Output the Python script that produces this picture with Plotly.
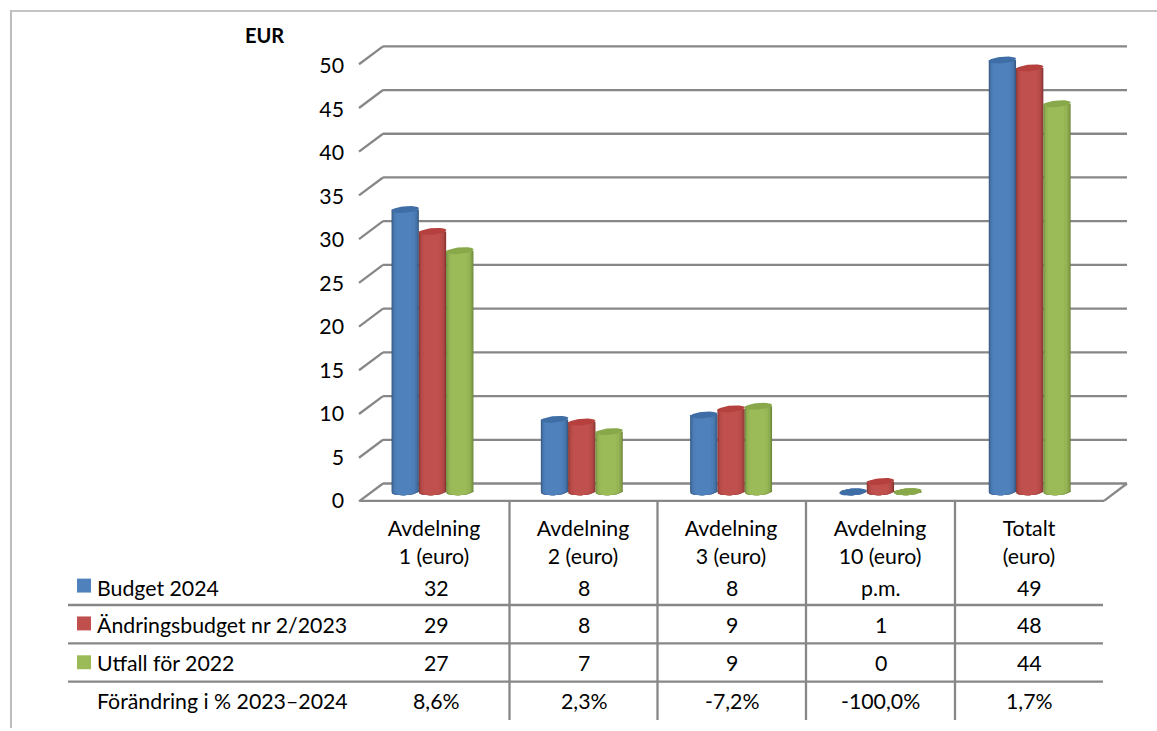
import math
import plotly.graph_objects as go

W, H = 1157, 731
FONT = "Lato"
FS = 21.3

categories = ["Avdelning<br>1 (euro)", "Avdelning<br>2 (euro)", "Avdelning<br>3 (euro)", "Avdelning<br>10 (euro)", "Totalt<br>(euro)"]
budget_2024 = [32.3, 8.3, 8.8, 0.0, 49.4]
andringsbudget = [29.8, 8.0, 9.5, 1.2, 48.5]
utfall_2022 = [27.6, 6.9, 9.8, 0.05, 44.4]
series_names = ["Budget 2024", "Ändringsbudget nr 2/2023", "Utfall för 2022"]
table_budget = ["32", "8", "8", "p.m.", "49"]
table_andring = ["29", "8", "9", "1", "48"]
table_utfall = ["27", "7", "9", "0", "44"]
table_change = ["8,6%", "2,3%", "-7,2%", "-100,0%", "1,7%"]
change_label = "Förändring i % 2023–2024"
y_ticks = [0, 5, 10, 15, 20, 25, 30, 35, 40, 45, 50]

base_cols = ["#4F81BD", "#C0504D", "#9BBB59"]
edge_cols = ["#34577F", "#843331", "#6C8539"]
cap_cols = ["#3F6DA5", "#B5403D", "#88A84A"]
LINE = "#878787"

# layout constants (pixels)
GROUP0, STEP = 432.5, 149.3
Y0, PXU = 494.0, 8.78
BAR_PX = 27.3
def xd(p): return (p - GROUP0) / STEP
def yd(p): return (Y0 - p) / PXU
def px(x): return x / W
def py(y): return 1 - y / H

def mix(a, b, t):
    a = [int(a[i:i+2], 16) for i in (1, 3, 5)]
    b = [int(b[i:i+2], 16) for i in (1, 3, 5)]
    return "rgb(%d,%d,%d)" % tuple(round(a[i] + (b[i] - a[i]) * t) for i in range(3))

def ellipse(cx, v, half_w, half_h=3.3, tilt=0.09, n=40):
    xs, ys = [], []
    for i in range(n + 1):
        t = 2 * math.pi * i / n
        dx = half_w * math.cos(t)
        dy = half_h * math.sin(t) + tilt * dx
        xs.append(cx + dx / STEP)
        ys.append(v + dy / PXU)
    return xs, ys

fig = go.Figure()
values = [budget_2024, andringsbudget, utfall_2022]
layers = [(1.0, 0.0), (0.95, 0.4), (0.87, 0.7), (0.76, 0.9), (0.58, 1.0)]
for s, vals in enumerate(values):
    for i, v in enumerate(vals):
        cx = i + (s - 1) * BAR_PX / STEP
        for frac, t in layers:
            col = mix(edge_cols[s], base_cols[s], t)
            w = BAR_PX * frac
            shift = -(1 - frac) * 2.0 / STEP
            ex, ey = ellipse(cx + shift, 0, w / 2, tilt=0.05)
            fig.add_trace(go.Scatter(x=ex, y=ey, mode="lines", fill="toself", fillcolor=col,
                                     line=dict(width=0), hoverinfo="skip", showlegend=False,
                                     zorder=10 * s))
            fig.add_trace(go.Bar(x=[cx], y=[v], width=w / STEP, offset=-w / STEP / 2 + shift,
                                 marker=dict(color=col, line=dict(width=0)),
                                 name=series_names[s], hoverinfo="skip", showlegend=False,
                                 zorder=10 * s + 1))
        ex, ey = ellipse(cx, v, BAR_PX / 2)
        fig.add_trace(go.Scatter(x=ex, y=ey, mode="lines", fill="toself", fillcolor=cap_cols[s],
                                 line=dict(width=0), hoverinfo="skip", showlegend=False,
                                 zorder=10 * s + 2))

# invisible trace that keeps the tick-label axis alive
fig.add_trace(go.Scatter(x=[0], y=[0], yaxis="y2", mode="lines", hoverinfo="skip", showlegend=False))

shapes = []
def seg(x0, y0, x1, y1, color=LINE, width=2.3):
    shapes.append(dict(type="line", xref="paper", yref="paper", x0=px(x0), y0=py(y0), x1=px(x1), y1=py(y1),
                       line=dict(color=color, width=width), layer="below"))

# chart frame
seg(11, 11, 1157, 11, "#C4C4C4", 2)
seg(11, 10, 11, 731, "#BDBDBD", 2)
# gridlines on the back wall with perspective stubs
for t in y_ticks:
    yb = 485.5 - t * 8.78
    seg(383, yb, 1127, yb)
    seg(383, yb, 359, yb + 18)
seg(360, 503, 1104, 503)
seg(1127, 485.5, 1104, 503)
# table rules
for x in [509.5, 657.5, 806, 955]:
    seg(x, 503, x, 723)
for y in [607.5, 646, 684.5]:
    seg(68, y, 1103, y)
# legend keys
for c, y in zip(base_cols, [581, 619, 658]):
    shapes.append(dict(type="rect", xref="paper", yref="paper", x0=px(77), x1=px(91), y0=py(y), y1=py(y + 14),
                       fillcolor=c, line=dict(width=0), layer="above"))

anns = []
def txt(x, y, s, anchor="center", size=FS, bold=False):
    anns.append(dict(xref="paper", yref="paper", x=px(x), y=py(y), text=("<b>%s</b>" % s if bold else s), showarrow=False,
                     xanchor=anchor, yanchor="middle", font=dict(family=FONT, size=size, color="#000000")))

col_x = [436, 584, 732, 881, 1029]
row_y = [590, 628, 666, 704]
for r, row in enumerate([table_budget, table_andring, table_utfall, table_change]):
    for cx, s in zip(col_x, row):
        txt(cx, row_y[r], s)
for r, s in enumerate(series_names + [change_label]):
    txt(95, row_y[r], s, anchor="left")
txt(264, 35, "EUR", size=20, bold=True)

top_px, bot_px = 30, 512
fig.update_layout(
    width=W, height=H, margin=dict(l=0, r=0, t=0, b=0), autosize=False,
    paper_bgcolor="white", plot_bgcolor="rgba(0,0,0,0)", barmode="overlay", showlegend=False,
    shapes=shapes, annotations=anns, font=dict(family=FONT, size=FS, color="#000000"),
    xaxis=dict(domain=[px(340), px(1130)], range=[xd(340), xd(1130)], showgrid=False, zeroline=False, showline=False,
               tickmode="array", tickvals=[xd(c) for c in [434, 583, 731, 880, 1029]], ticktext=categories,
               ticks="", tickfont=dict(family=FONT, size=FS, color="#000000"), ticklabelstandoff=4),
    yaxis=dict(domain=[py(bot_px), py(top_px)], range=[yd(bot_px), yd(top_px)], showgrid=False, zeroline=False,
               showticklabels=False, showline=False),
    yaxis2=dict(domain=[py(bot_px), py(top_px)], overlaying="y", anchor="free", position=px(344), side="left",
                range=[(503 - bot_px) / 8.74, (503 - top_px) / 8.74], tickmode="array", tickvals=y_ticks,
                showgrid=False, zeroline=False, showline=False, ticks="",
                tickfont=dict(family=FONT, size=FS, color="#000000")),
)
fig.write_html("out.html", config={"displayModeBar": False},
               post_script="document.body.style.margin='0';document.documentElement.style.overflow='hidden';")
